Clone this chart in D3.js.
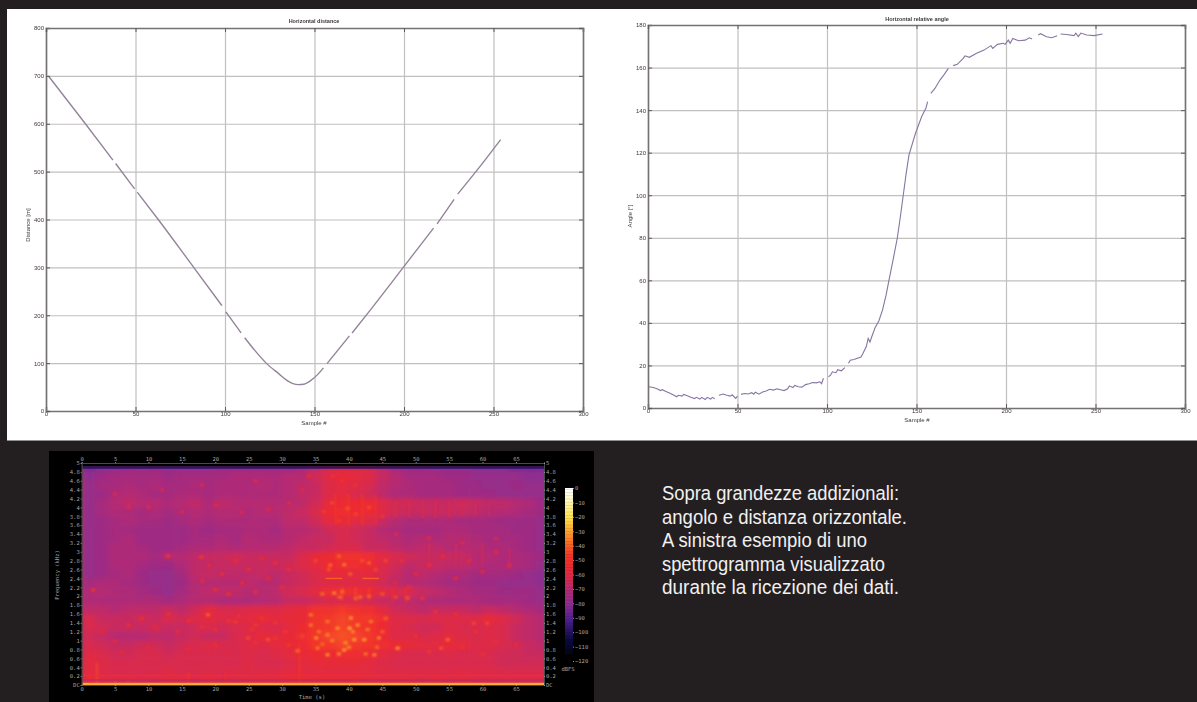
<!DOCTYPE html>
<html>
<head>
<meta charset="utf-8">
<script src="https://cdn.jsdelivr.net/npm/d3@7"></script>
<style>
  html, body { margin: 0; padding: 0; background: #231f20; overflow: hidden; }
  svg { display: block; }
  .plot text { font-family: "Liberation Sans", Arial, sans-serif; fill: #3c3838; }
  .spec text { font-family: "DejaVu Sans Mono", monospace; fill: #a8a4a4; }
</style>
</head>
<body>
<script>
// horizontal distance, null = hole in the trace
var distSamples = [1.3,22,37.4,null,38.9,49.5,null,51,62.7,82.5,98.3,null,100.5,109,null,111,117,123,130,135,138,141,144,148,152,155,null,157,169.5,null,171,179.5,199.6,216.5,null,218.5,228,null,230,240.6,254];
var distValues  = [700,600,524,null,517,464,null,457,400,300,220,null,207,163,null,153,125,100,78,63,57,55,56,64,77,90,null,99,157,null,163,203,300,382,null,391,442,null,453,502,567];

// horizontal relative angle
var angleSamples = [0.5,3,5,7,8,10,12,14,16,17,19,20,22,24,26,27,29,30,32,33,35,36,37.4,null,39.6,42,44,46,47,49,50,null,52,54,56,58,59,60,62,64,66,68,70,72,74,76,78,79,81,82,84,86,88,90,92,94,96,97,98,null,100.8,102,103,105,106,108,110,null,112,113,115,117,119,120,122,123,124,125,126.8,129,131,133,134.6,137,139.3,141,142.6,144.2,145.8,149.4,152.9,155.3,156.2,null,158,160.3,163,165.5,167.8,null,170.5,172.8,176.1,177.1,179.5,183.6,187.7,191.6,192.6,195.2,198.5,199.5,201.3,202.3,203.8,207,210.7,213,214.5,null,218,219.3,222.7,225.5,228.6,null,230.5,233.9,238,239,240.4,241.8,245.1,249.2,253.9];
var angleValues  = [10,9.6,9,8.2,8.6,7.8,7,6.2,5.3,6,5.6,6.4,5.8,5,4.4,5,4.2,5,4,5,4.2,5,4.3,null,6,6.6,6,5.6,6.2,4.5,5.6,null,6.4,6.8,6.6,7.2,6.5,7.4,6.5,7.5,8,8.8,8.4,9,8.6,8.2,9,10.4,9.6,10.6,10,9.8,11,11.4,12,11.8,12.3,11.4,14,null,14.7,15.4,17,16.6,18,17.5,19,null,21,22.5,22.8,23.4,24,25.5,29,32.7,31,33.5,37.6,41,46,53,60,70,80,90,100,110,119,129,137,141,144,null,147.9,150.2,154,156.8,159.6,null,160.9,161.5,164.3,165.5,164.8,166.7,168.2,170.3,169,170.9,171.4,170.9,172.9,171.4,173.7,172.6,172.9,174,173.4,null,175.3,175.9,174.5,174,175,null,175.8,175.5,175,176.2,174.6,176.2,175.3,175,175.8];

var sampleTicks = [0,50,100,150,200,250,300];
var distTicks = [0,100,200,300,400,500,600,700,800];
var angleTicks = [0,20,40,60,80,100,120,140,160,180];

// spectrogram, dBFS. rows = freqBins, columns = timeBins
var timeBins = [0,2,4,6,8,10,12,14,16,18,20,22,24,26,28,30,32,34,36,38,40,42,44,46,48,50,52,54,56,58,60,62,64,66,68];
var freqBins = [4.8,4.6,4.4,4.2,4.0,3.8,3.6,3.4,3.2,3.0,2.8,2.6,2.4,2.2,2.0,1.8,1.6,1.4,1.2,1.0,0.8,0.6,0.4,0.2,0.0];
var specRows = [
  [-82,-80,-78,-76,-78,-76,-78,-78,-78,-78,-76,-76,-76,-76,-76,-76,-72,-68,-62,-60,-60,-62,-68,-74,-76,-76,-78,-78,-78,-80,-80,-80,-82,-82,-82],
  [-80,-76,-74,-74,-74,-74,-76,-74,-74,-74,-74,-72,-72,-72,-72,-70,-70,-64,-60,-56,-58,-60,-66,-70,-74,-74,-74,-76,-76,-78,-78,-78,-78,-80,-80],
  [-78,-74,-74,-72,-74,-72,-74,-74,-72,-74,-72,-72,-72,-70,-72,-70,-68,-66,-60,-58,-60,-62,-68,-70,-72,-74,-74,-74,-76,-76,-78,-78,-76,-78,-78],
  [-78,-76,-72,-70,-72,-74,-74,-72,-72,-74,-72,-72,-72,-72,-72,-70,-68,-66,-60,-58,-62,-64,-68,-72,-72,-74,-74,-74,-76,-76,-76,-78,-78,-78,-78],
  [-78,-74,-70,-68,-70,-70,-72,-70,-68,-72,-68,-70,-70,-70,-70,-70,-68,-64,-57,-54,-54,-54,-60,-64,-64,-66,-66,-66,-64,-66,-68,-68,-70,-72,-76],
  [-78,-74,-72,-72,-74,-72,-74,-72,-70,-72,-70,-70,-72,-70,-70,-68,-66,-62,-54,-52,-54,-54,-60,-64,-66,-66,-66,-66,-66,-68,-70,-70,-72,-74,-76],
  [-78,-76,-74,-72,-74,-74,-76,-74,-72,-74,-72,-72,-72,-72,-72,-68,-68,-64,-58,-56,-58,-60,-66,-70,-72,-72,-72,-72,-74,-74,-74,-76,-76,-76,-78],
  [-78,-76,-74,-74,-76,-76,-76,-76,-74,-76,-74,-74,-72,-72,-74,-70,-70,-68,-64,-62,-64,-66,-70,-72,-74,-74,-74,-72,-72,-74,-74,-74,-76,-76,-78],
  [-78,-76,-74,-72,-76,-76,-76,-76,-74,-74,-72,-74,-70,-72,-72,-70,-68,-66,-66,-62,-64,-66,-68,-70,-72,-70,-72,-70,-70,-72,-74,-74,-74,-76,-78],
  [-78,-76,-72,-72,-74,-76,-76,-74,-72,-72,-70,-72,-70,-70,-70,-68,-66,-66,-64,-62,-62,-66,-66,-68,-70,-68,-68,-70,-70,-70,-72,-72,-74,-76,-78],
  [-78,-76,-72,-72,-72,-74,-70,-70,-68,-66,-66,-64,-66,-66,-66,-66,-62,-56,-54,-50,-50,-52,-58,-62,-64,-66,-66,-66,-66,-70,-70,-72,-72,-74,-76],
  [-78,-76,-72,-72,-74,-76,-76,-72,-68,-68,-66,-66,-66,-66,-66,-64,-60,-58,-54,-52,-52,-54,-60,-64,-68,-66,-66,-68,-68,-70,-72,-72,-72,-74,-78],
  [-78,-76,-74,-72,-76,-78,-78,-74,-68,-66,-68,-68,-68,-66,-68,-66,-64,-60,-58,-56,-58,-58,-62,-66,-70,-68,-70,-72,-72,-74,-74,-74,-76,-78,-80],
  [-74,-72,-72,-74,-76,-78,-78,-76,-70,-70,-70,-70,-68,-70,-70,-66,-64,-62,-60,-60,-60,-60,-64,-68,-70,-70,-72,-74,-74,-76,-76,-78,-78,-78,-80],
  [-72,-70,-72,-72,-74,-76,-78,-74,-70,-68,-68,-68,-70,-70,-68,-64,-62,-58,-52,-52,-52,-54,-58,-60,-62,-66,-68,-70,-72,-74,-74,-76,-76,-76,-78],
  [-72,-72,-72,-72,-72,-72,-74,-72,-70,-70,-72,-72,-72,-70,-70,-66,-66,-64,-62,-62,-62,-64,-66,-68,-68,-70,-72,-72,-72,-72,-74,-74,-74,-76,-78],
  [-68,-68,-70,-68,-68,-68,-66,-68,-64,-58,-62,-62,-60,-60,-60,-58,-56,-50,-50,-46,-50,-52,-58,-64,-66,-68,-66,-66,-66,-68,-66,-68,-70,-72,-74],
  [-62,-66,-66,-66,-64,-66,-62,-64,-60,-58,-60,-60,-58,-56,-58,-56,-56,-48,-46,-44,-46,-46,-52,-60,-60,-62,-60,-60,-60,-60,-56,-60,-64,-68,-70],
  [-62,-64,-66,-66,-66,-64,-66,-66,-64,-62,-64,-62,-60,-60,-62,-58,-54,-48,-46,-44,-46,-48,-54,-60,-62,-64,-64,-60,-62,-62,-60,-62,-66,-68,-70],
  [-64,-66,-70,-70,-70,-68,-68,-66,-64,-66,-66,-62,-60,-56,-58,-56,-52,-48,-44,-42,-44,-46,-54,-60,-60,-62,-60,-58,-60,-62,-60,-62,-66,-68,-70],
  [-62,-64,-66,-66,-64,-64,-66,-64,-62,-60,-62,-62,-60,-60,-58,-56,-54,-48,-46,-44,-46,-48,-52,-54,-56,-58,-58,-56,-58,-60,-60,-62,-64,-66,-68],
  [-60,-62,-64,-64,-62,-62,-64,-62,-62,-62,-62,-62,-60,-62,-60,-58,-56,-54,-54,-52,-52,-54,-58,-60,-62,-62,-62,-60,-62,-62,-62,-64,-64,-66,-66],
  [-58,-60,-62,-62,-62,-62,-62,-62,-62,-62,-62,-62,-60,-62,-62,-60,-58,-56,-56,-56,-56,-58,-60,-62,-62,-62,-62,-62,-62,-62,-62,-64,-64,-64,-64],
  [-58,-60,-62,-62,-62,-62,-60,-62,-62,-60,-62,-60,-60,-60,-60,-58,-58,-58,-58,-58,-58,-58,-60,-60,-60,-60,-60,-60,-60,-60,-60,-62,-62,-62,-62],
  [-56,-58,-60,-60,-60,-60,-58,-58,-60,-58,-60,-60,-58,-58,-58,-56,-56,-56,-56,-56,-56,-58,-58,-58,-58,-60,-58,-60,-58,-60,-60,-60,-60,-60,-60]
];

// bright speckles: time, freq, dB
var spotTimes = [40.1,40.8,35.1,40.3,32.3,47.3,54.8,18.9,37.8,39.8,36.8,39.3,43.8,43.3,36.8,34.3,27.9,24.9,53.8,58.7,60.7,48.8,39.3,12.9,17.9,1.7,36.8,42.3,44.5,41.3,38.3,35.3,34.3,38.6,41.7,37.2,43,40.6,39.5,42.5,36,45,26,23,
  3,5,7,9,11,13,14.5,16,18,20,22,23.5,25.5,27,29,30.5,29,26,20,16,10,6,2,19,21,23,25,27,29,31,18,20,22,24,26,28,30,7,10,15,20,24,28,31,5,12,18,26,33,34,
  48,50,52,54,56,58,60,62,64,47,49,51,53,56,59,62,65,50,52,57,60,47,52,57,62,
  35,37,38.5,40.2,42,44,45.5,36,39,41,43,45,47,35.5,37.5,38.5,40,42.8,44.2,45.5,36.2,37.5,38.5,41,43,45,39,41,37.5,33,31];
var spotFreqs = [1.28,1.02,1.06,1.51,0.77,0.83,1.02,1.58,2.07,3.98,0.68,0.79,0.68,1.43,1.43,1.58,1.02,1.06,0.83,1.39,1.39,1.96,2.71,2.9,2.88,2.14,1.13,1.02,1.06,1.35,1.28,0.83,1.35,1.98,1.98,2.7,2.75,1.2,0.95,0.7,0.92,1.2,1.35,1.42,
  1.2,1,1.35,1.5,1.3,1.6,1.2,1.45,1.3,1.25,1.45,1.55,1.25,1.5,1.4,1.2,1.05,0.95,0.9,0.8,0.85,0.75,0.65,2.7,2.5,2.8,2.6,2.85,2.75,2.6,2.35,2.15,2.05,2.3,2.1,2.4,2.2,4,4,3.9,4.05,3.9,3.95,4.1,4.3,4.4,4.5,4.6,4.4,4.7,
  2.8,2.5,2.7,2.9,2.4,2.8,2.55,3,2.7,2.3,2.2,1.95,1.65,1.6,1.2,1,0.9,1.1,0.75,0.85,0.7,3.4,3.3,3.2,3.3,
  2.8,2.6,2.9,2.5,2.8,2.6,2.8,2.05,2.1,1.95,2,2.05,1.98,1.2,1,0.7,0.85,1.25,0.85,1.5,3.9,4.1,3.7,3.85,4,3.8,4.6,4.5,4.7,1.1,0.9];
var spotDb    = [-28,-30,-32,-32,-38,-32,-38,-40,-34,-42,-32,-30,-34,-36,-36,-36,-42,-44,-42,-44,-44,-42,-36,-46,-46,-48,-34,-30,-34,-32,-32,-36,-36,-38,-38,-38,-40,-34,-32,-36,-38,-40,-46,-46,
  -54,-54,-52,-52,-54,-50,-54,-52,-50,-52,-50,-50,-48,-48,-48,-46,-48,-50,-52,-54,-56,-56,-54,-54,-52,-54,-52,-54,-52,-52,-54,-52,-50,-54,-52,-54,-52,-60,-60,-60,-60,-60,-60,-58,-62,-62,-62,-60,-56,-54,
  -52,-54,-52,-54,-54,-54,-56,-56,-58,-54,-52,-50,-50,-52,-50,-52,-54,-50,-46,-50,-50,-60,-60,-60,-60,
  -44,-42,-40,-40,-42,-44,-44,-38,-38,-40,-40,-42,-44,-36,-34,-34,-34,-36,-38,-40,-46,-44,-46,-44,-44,-48,-50,-50,-50,-44,-46];

// vertical streaks: time, low freq, high freq, dB
var streakTimes = [2.3,16,21.6,32.6,5,7,47,49,51,53,55,57,59,61,38,40,42,44,39,41,43,46.5,48.5,52,56,60,64];
var streakLow   = [0,0,0,0,0,0,3.75,3.75,3.75,3.75,3.75,3.8,3.8,3.8,3.6,3.6,3.6,3.6,1.9,1.9,1.9,1.85,1.85,2.7,2.7,2.7,2.6];
var streakHigh  = [0.5,0.3,0.3,0.95,0.12,0.12,4.15,4.15,4.15,4.15,4.15,4.1,4.1,4.1,4.3,4.3,4.3,4.3,2.2,2.2,2.2,2.2,2.2,3.2,3.2,3.2,3.1];
var streakDb    = [-44,-48,-52,-48,-46,-46,-60,-62,-62,-62,-62,-64,-64,-66,-50,-48,-50,-52,-44,-44,-46,-54,-52,-64,-64,-64,-66];

// horizontal dashes and edge bands: low time, high time, low freq, high freq, dB
var dashTLow  = [36.5,42,0,0,0,0,0];
var dashTHigh = [39,44.5,70,70,70,70,70];
var dashFLow  = [2.385,2.385,4.92,4.87,0,0.1,0.2];
var dashFHigh = [2.415,2.415,5,4.92,0.05,0.13,0.23];
var dashDb    = [-40,-40,-120,-98,-28,-70,-52];

var timeTicks = [0,5,10,15,20,25,30,35,40,45,50,55,60,65];
var freqTicks = [5,4.8,4.6,4.4,4.2,4,3.8,3.6,3.4,3.2,3,2.8,2.6,2.4,2.2,2,1.8,1.6,1.4,1.2,1,0.8,0.6,0.4,0.2,0];
var dbTicks = [0,-10,-20,-30,-40,-50,-60,-70,-80,-90,-100,-110,-120];

var captionLines = [
  "Sopra grandezze addizionali:",
  "angolo e distanza orizzontale.",
  "A sinistra esempio di uno",
  "spettrogramma visualizzato",
  "durante la ricezione dei dati."
];
var captionWidths = [237, 245, 205, 223, 237];

var svg = d3.select("body").append("svg")
    .attr("width", 1197)
    .attr("height", 702);

svg.append("rect").attr("width", 1197).attr("height", 702).attr("fill", "#231f20");
svg.append("rect").attr("x", 7).attr("y", 9).attr("width", 1190).attr("height", 431.5).attr("fill", "#fff");

var defs = svg.append("defs");
defs.append("filter").attr("id", "soft")
    .append("feGaussianBlur").attr("stdDeviation", 0.5);
defs.append("filter").attr("id", "wide")
    .attr("x", "-5%").attr("y", "-5%").attr("width", "110%").attr("height", "110%")
    .append("feGaussianBlur").attr("stdDeviation", "3 2.2");
defs.append("filter").attr("id", "speck")
    .attr("x", "-5%").attr("y", "-5%").attr("width", "110%").attr("height", "110%")
    .append("feGaussianBlur").attr("stdDeviation", 1);

// matlab style plot with grid
function drawPlot(o) {
    var x = d3.scaleLinear().domain([0, 300]).range([o.left, o.right]);
    var y = d3.scaleLinear().domain([0, o.yMax]).range([o.bottom, o.top]);
    var g = svg.append("g").attr("class", "plot").attr("filter", "url(#soft)");
    var w = o.right - o.left, h = o.bottom - o.top;

    // grid
    g.append("g").attr("transform", "translate(0," + o.bottom + ")")
        .call(d3.axisBottom(x).tickValues(sampleTicks).tickSize(-h).tickFormat(""))
        .call(function(a) { a.select(".domain").remove(); a.selectAll("line").attr("stroke", "#c2bfbf").attr("stroke-width", 1.2); });
    g.append("g").attr("transform", "translate(" + o.left + ",0)")
        .call(d3.axisLeft(y).tickValues(o.yTicks).tickSize(-w).tickFormat(""))
        .call(function(a) { a.select(".domain").remove(); a.selectAll("line").attr("stroke", "#c2bfbf").attr("stroke-width", 1.2); });

    // trace
    var pts = o.samples.map(function(s, i) { return [s, o.values[i]]; });
    g.append("path").datum(pts)
        .attr("fill", "none")
        .attr("stroke", o.color)
        .attr("stroke-width", o.lineWidth)
        .attr("d", d3.line()
            .defined(function(d) { return d[0] !== null; })
            .curve(o.curve)
            .x(function(d) { return x(d[0]); })
            .y(function(d) { return y(d[1]); }));

    // labelled axes
    var bottom = g.append("g").attr("transform", "translate(0," + o.bottom + ")")
        .call(d3.axisBottom(x).tickValues(sampleTicks).tickSize(-4).tickPadding(1));
    var left = g.append("g").attr("transform", "translate(" + o.left + ",0)")
        .call(d3.axisLeft(y).tickValues(o.yTicks).tickSize(-4).tickPadding(2));
    var top = g.append("g").attr("transform", "translate(0," + o.top + ")")
        .call(d3.axisTop(x).tickValues(sampleTicks).tickSize(-4).tickFormat(""));
    var right = g.append("g").attr("transform", "translate(" + o.right + ",0)")
        .call(d3.axisRight(y).tickValues(o.yTicks).tickSize(-4).tickFormat(""));
    [bottom, left, top, right].forEach(function(a) {
        a.selectAll("line").attr("stroke", "#5e5a5a");
        a.select(".domain").attr("stroke", "#767272").attr("stroke-width", 1.6);
        a.selectAll("text").attr("font-size", 6).attr("font-family", null);
    });

    g.append("text").attr("x", o.titleX).attr("y", o.titleY)
        .attr("text-anchor", "middle").attr("font-size", 5.5).attr("font-weight", "bold")
        .text(o.title);
    g.append("text").attr("x", o.titleX).attr("y", o.xLabelY)
        .attr("text-anchor", "middle").attr("font-size", 6).text("Sample #");
    g.append("text")
        .attr("transform", "translate(" + o.yLabelX + "," + o.yLabelY + ") rotate(-90)")
        .attr("text-anchor", "middle").attr("font-size", 6).text(o.yLabel);
}

drawPlot({
    left: 46, right: 583, top: 28, bottom: 411, yMax: 800, yTicks: distTicks,
    samples: distSamples, values: distValues, color: "#94849a", lineWidth: 1.4, curve: d3.curveMonotoneX,
    title: "Horizontal distance", titleX: 314, titleY: 23,
    xLabelY: 425, yLabel: "Distance [m]", yLabelX: 30, yLabelY: 225
});

drawPlot({
    left: 648, right: 1185, top: 25, bottom: 408, yMax: 180, yTicks: angleTicks,
    samples: angleSamples, values: angleValues, color: "#8576a2", lineWidth: 1.1, curve: d3.curveLinear,
    title: "Horizontal relative angle", titleX: 917, titleY: 21,
    xLabelY: 422, yLabel: "Angle [\u00b0]", yLabelX: 632, yLabelY: 216
});

// spectrogram
var specColor = d3.scaleLinear()
    .domain([-120, -105, -92, -80, -70, -62, -54, -46, -38, -28, -20, -8, 0])
    .range(["#000000", "#0b0a40", "#481e8c", "#8e2d90", "#b62b72", "#d92a4e", "#ec2a32", "#f3382a", "#f86a24", "#fcae30", "#ffe24a", "#fff8c0", "#ffffff"])
    .clamp(true);

var tx = d3.scaleLinear().domain([0, 69.2]).range([81.7, 544]);
var fy = d3.scaleLinear().domain([0, 5]).range([685, 463]);
var dby = d3.scaleLinear().domain([0, -120]).range([488, 661]);

var spec = svg.append("g").attr("class", "spec");
spec.append("rect").attr("x", 49).attr("y", 451).attr("width", 545).attr("height", 251).attr("fill", "#000");

defs.append("clipPath").attr("id", "specClip").append("rect")
    .attr("x", tx(0)).attr("y", fy(5))
    .attr("width", tx(69.2) - tx(0)).attr("height", fy(0) - fy(5));

var specArea = spec.append("g").attr("clip-path", "url(#specClip)");
specArea.append("rect")
    .attr("x", tx(0)).attr("y", fy(5))
    .attr("width", tx(69.2) - tx(0)).attr("height", fy(0) - fy(5))
    .attr("fill", specColor(-68));

var cells = [];
specRows.forEach(function(row, r) {
    row.forEach(function(db, c) { cells.push({ t: timeBins[c], f: freqBins[r], db: db }); });
});

specArea.append("g").attr("filter", "url(#wide)")
    .selectAll("rect").data(cells).enter().append("rect")
    .attr("x", function(d) { return tx(d.t); })
    .attr("y", function(d) { return fy(d.f + 0.2); })
    .attr("width", function(d) { return tx(d.t + 2) - tx(d.t) + 0.5; })
    .attr("height", function(d) { return fy(d.f) - fy(d.f + 0.2) + 0.5; })
    .attr("fill", function(d) { return specColor(d.db); });

var fine = specArea.append("g").attr("filter", "url(#speck)");

fine.selectAll("rect.streak").data(streakTimes).enter().append("rect")
    .attr("class", "streak")
    .attr("x", function(d) { return tx(d) - 0.8; })
    .attr("y", function(d, i) { return fy(streakHigh[i]); })
    .attr("width", 1.6)
    .attr("height", function(d, i) { return fy(streakLow[i]) - fy(streakHigh[i]); })
    .attr("fill", function(d, i) { return specColor(streakDb[i]); });

fine.selectAll("rect.spot").data(spotTimes).enter().append("rect")
    .attr("class", "spot")
    .attr("x", function(d) { return tx(d) - 2; })
    .attr("y", function(d, i) { return fy(spotFreqs[i]) - 1.5; })
    .attr("width", 4)
    .attr("height", 3)
    .attr("fill", function(d, i) { return specColor(spotDb[i]); });

specArea.selectAll("rect.dash").data(dashDb).enter().append("rect")
    .attr("class", "dash")
    .attr("x", function(d, i) { return tx(dashTLow[i]); })
    .attr("y", function(d, i) { return fy(dashFHigh[i]); })
    .attr("width", function(d, i) { return tx(dashTHigh[i]) - tx(dashTLow[i]); })
    .attr("height", function(d, i) { return fy(dashFLow[i]) - fy(dashFHigh[i]); })
    .attr("fill", function(d) { return specColor(d); });

// spectrogram axes
function styleSpecAxis(a) {
    a.select(".domain").attr("stroke", "#4a4a4a");
    a.selectAll("line").attr("stroke", "#9a9696");
    a.selectAll("text").attr("font-size", 5.5).attr("font-family", null);
}
function freqLabel(d) { return d === 0 ? "DC" : String(d); }

spec.append("g").attr("transform", "translate(0," + fy(5) + ")")
    .call(d3.axisTop(tx).tickValues(timeTicks).tickSize(1).tickPadding(1)).call(styleSpecAxis);
spec.append("g").attr("transform", "translate(0," + fy(0) + ")")
    .call(d3.axisBottom(tx).tickValues(timeTicks).tickSize(1).tickPadding(1)).call(styleSpecAxis);
spec.append("g").attr("transform", "translate(" + tx(0) + ",0)")
    .call(d3.axisLeft(fy).tickValues(freqTicks).tickFormat(freqLabel).tickSize(1).tickPadding(1)).call(styleSpecAxis);
spec.append("g").attr("transform", "translate(" + tx(69.2) + ",0)")
    .call(d3.axisRight(fy).tickValues(freqTicks).tickFormat(freqLabel).tickSize(1).tickPadding(1)).call(styleSpecAxis);

spec.append("text").attr("x", 312).attr("y", 699).attr("text-anchor", "middle")
    .attr("font-size", 5.5).text("Time (s)");
spec.append("text")
    .attr("transform", "translate(59,575) rotate(-90)")
    .attr("text-anchor", "middle").attr("font-size", 5.5).text("Frequency (kHz)");

// colour bar
var barDb = d3.range(0, -115, -1);
spec.append("g").selectAll("rect").data(barDb).enter().append("rect")
    .attr("x", 565)
    .attr("y", function(d) { return dby(d); })
    .attr("width", 8)
    .attr("height", function(d) { return dby(d - 1) - dby(d) + 0.4; })
    .attr("fill", function(d) { return specColor(d); });

spec.append("g").attr("transform", "translate(573,0)")
    .call(d3.axisRight(dby).tickValues(dbTicks).tickSize(1).tickPadding(1))
    .call(styleSpecAxis)
    .select(".domain").remove();

spec.append("text").attr("x", 568).attr("y", 671).attr("text-anchor", "middle")
    .attr("font-size", 5.5).text("dBFS");

// caption
svg.append("g").selectAll("text").data(captionLines).enter().append("text")
    .attr("x", 662)
    .attr("y", function(d, i) { return 500 + i * 23.5; })
    .attr("textLength", function(d, i) { return captionWidths[i]; })
    .attr("lengthAdjust", "spacingAndGlyphs")
    .attr("font-family", "'Liberation Sans Narrow', 'Liberation Sans', sans-serif")
    .attr("font-size", 20.5)
    .attr("fill", "#f2f0f0")
    .text(function(d) { return d; });
</script>
</body>
</html>
